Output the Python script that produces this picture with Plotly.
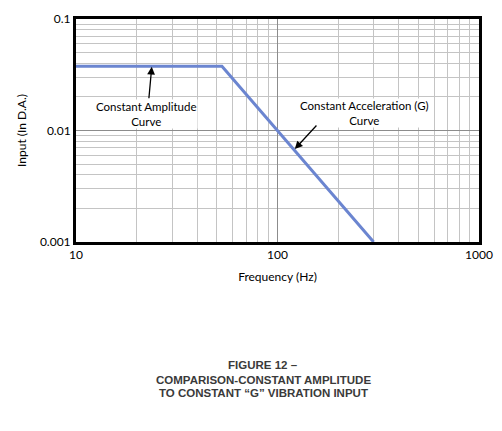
import plotly.graph_objects as go

# Displacement input vs frequency (log-log)
freq_hz = [10, 53, 300]
input_da = [0.0377, 0.0377, 0.001]

x_ticks = [10, 100, 1000]
x_ticktext = ['10', '100', '1000']
x_minor = [20, 30, 40, 50, 60, 70, 80, 90, 200, 300, 400, 500, 600, 700, 800, 900]
y_ticks = [0.001, 0.01, 0.1]
y_ticktext = ['0.001', '0.01', '0.1']
y_minor = [0.002, 0.003, 0.004, 0.005, 0.006, 0.007, 0.008, 0.009,
           0.02, 0.03, 0.04, 0.05, 0.06, 0.07, 0.08, 0.09]

caption = ['FIGURE 12 \u2013',
           'COMPARISON-CONSTANT AMPLITUDE',
           'TO CONSTANT \u201cG\u201d VIBRATION INPUT']

font_main = 'Lato, Open Sans, sans-serif'

fig = go.Figure()
fig.add_trace(go.Scatter(x=freq_hz, y=input_da, mode='lines',
                         line=dict(color='#6b85d0', width=3),
                         showlegend=False, hoverinfo='x+y'))

# page body has an 8px margin, so the figure is 8px smaller than the window
fig.update_layout(
    width=494, height=423,
    margin=dict(l=68, r=23, t=11, b=189),
    plot_bgcolor='white', paper_bgcolor='white',
    font=dict(family=font_main, size=12, color='black'),
    showlegend=False,
)

fig.update_xaxes(type='log', range=[1, 3],
                 tickmode='array', tickvals=x_ticks, ticktext=x_ticktext,
                 showgrid=True, gridcolor='#8c8c8c', gridwidth=1,
                 minor=dict(tickmode='array', tickvals=x_minor, showgrid=True,
                            gridcolor='#c4c4c4', gridwidth=1, ticks=''),
                 showline=True, linecolor='black', linewidth=3, mirror=True,
                 ticks='', ticklen=0, tickfont=dict(size=12),
                 title=dict(text='Frequency (Hz)', standoff=12, font=dict(size=12)),
                 zeroline=False, automargin=False)
fig.update_yaxes(type='log', range=[-3, -1],
                 tickmode='array', tickvals=y_ticks, ticktext=y_ticktext,
                 showgrid=True, gridcolor='#8c8c8c', gridwidth=1,
                 minor=dict(tickmode='array', tickvals=y_minor, showgrid=True,
                            gridcolor='#c4c4c4', gridwidth=1, ticks=''),
                 showline=True, linecolor='black', linewidth=3, mirror=True,
                 ticks='', ticklen=0, tickfont=dict(size=12),
                 title=dict(text='Input (In D.A.)', standoff=11, font=dict(size=12)),
                 zeroline=False, automargin=False)

# curve labels (white boxes hide grid behind text)
fig.add_annotation(xref='paper', yref='paper', x=0.174, y=0.575,
                   xanchor='center', yanchor='middle',
                   text='Constant Amplitude<br>Curve', showarrow=False,
                   bgcolor='white', borderpad=0, font=dict(size=11.5))
fig.add_annotation(xref='paper', yref='paper', x=0.715, y=0.58,
                   xanchor='center', yanchor='middle',
                   text='Constant Acceleration (G)<br>Curve', showarrow=False,
                   bgcolor='white', borderpad=0, font=dict(size=11.5))

# arrows
fig.add_annotation(xref='paper', yref='paper', x=0.188, y=0.786, text='',
                   showarrow=True, ax=-3, ay=33, arrowhead=2, arrowsize=1.2,
                   arrowwidth=1.3, arrowcolor='black')
fig.add_annotation(xref='paper', yref='paper', x=0.543, y=0.417, text='',
                   showarrow=True, ax=23, ay=-25, arrowhead=2, arrowsize=1.2,
                   arrowwidth=1.3, arrowcolor='black')

# figure caption
cap_y = [365, 380, 394]
for line, ypx in zip(caption, cap_y):
    fig.add_annotation(xref='paper', yref='paper',
                       x=(263 - 76) / 403, y=(242.3 - ypx) / 223.3,
                       text='<b>' + line + '</b>', showarrow=False,
                       xanchor='center', yanchor='middle',
                       font=dict(family='Liberation Sans, Arial, sans-serif',
                                 size=11.5, color='#3a3a3a'))

fig.write_html('out.html')
